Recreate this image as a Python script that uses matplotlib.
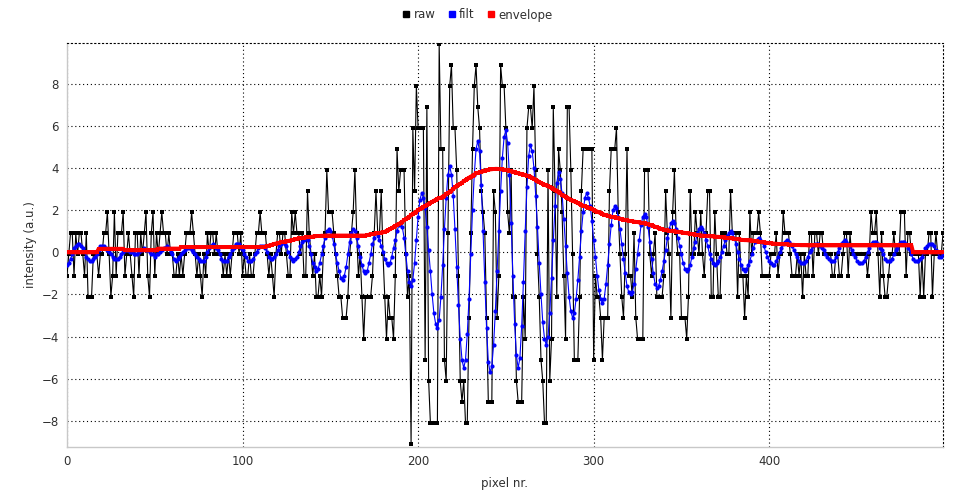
import numpy as np
import matplotlib
matplotlib.use("Agg")
import matplotlib.pyplot as plt
from matplotlib.lines import Line2D

# ---------------- data ----------------
raw = [
    -1.1,-0.1,0.9,0.9,-1.1,0.9,-0.1,0.9,0.9,-0.1,
    -1.1,0.9,-2.1,-2.1,-2.1,-0.1,-0.1,-0.1,-1.1,-0.1,
    -0.1,0.9,0.9,1.9,-0.1,-2.1,-1.1,1.9,-1.1,0.9,
    0.9,0.9,1.9,-1.1,-0.1,0.9,-0.1,-1.1,-2.1,0.9,
    0.9,-1.1,0.9,-0.1,0.9,1.9,-1.1,-2.1,0.9,1.9,
    -1.1,0.9,-0.1,0.9,1.9,0.9,0.9,-0.1,0.9,-0.1,
    -0.1,-1.1,-1.1,-0.1,-1.1,-0.1,-1.1,-0.1,0.9,0.9,
    0.9,1.9,0.9,-0.1,-1.1,-0.1,-1.1,-2.1,-0.1,-1.1,
    0.9,-0.1,0.9,0.9,-0.1,0.9,-0.1,-0.1,-0.1,-1.1,
    -0.1,-1.1,-0.1,-1.1,-0.1,0.9,0.9,0.9,-0.1,0.9,
    -1.1,-0.1,-1.1,-1.1,-0.1,-1.1,-1.1,-0.1,0.9,0.9,
    1.9,0.9,0.9,0.9,-0.1,-1.1,-0.1,-1.1,-2.1,-0.1,
    0.9,0.9,-0.1,0.9,0.9,-0.1,-1.1,-1.1,1.9,0.9,
    1.9,0.9,0.9,-0.1,0.9,-1.1,-1.1,2.9,0.9,-0.1,
    -1.1,-0.1,-2.1,-2.1,-1.1,-2.1,-0.1,0.9,3.9,1.9,
    1.9,1.9,0.9,-0.1,-1.1,-2.1,-2.1,-3.1,-3.1,-3.1,
    -2.1,-0.1,0.9,1.9,3.9,0.9,-1.1,-0.1,-2.1,-4.1,
    -2.1,-2.1,-2.1,-2.1,-1.1,0.9,2.9,0.9,0.9,2.9,
    -0.1,-2.1,-4.1,-2.1,-3.1,-3.1,-4.1,-1.1,4.9,2.9,
    3.9,3.9,3.9,-0.1,-2.1,-1.1,-9.1,5.9,2.9,7.9,
    5.9,5.9,5.9,5.9,-5.1,6.9,-6.1,-8.1,-8.1,-8.1,
    -8.1,-8.1,9.9,4.9,4.9,-5.1,-6.1,0.9,7.9,8.9,
    5.9,5.9,3.9,-1.1,-6.1,-7.1,-6.1,-8.1,-8.1,-3.1,
    0.9,4.9,7.9,8.9,6.9,5.9,2.9,1.9,0.9,-3.1,
    -7.1,-7.1,-7.1,2.9,1.9,-3.1,-1.1,8.9,7.9,7.9,
    5.9,1.9,0.9,3.9,-2.1,-2.1,-6.1,-7.1,-7.1,-7.1,
    -2.1,-4.1,5.9,6.9,6.9,5.9,7.9,3.9,-0.1,-2.1,
    -5.1,-6.1,-8.1,-8.1,3.9,-6.1,-4.1,6.9,2.9,-2.1,
    4.9,3.9,1.9,-1.1,-4.1,6.9,6.9,3.9,-0.1,-5.1,
    -5.1,-5.1,-2.1,2.9,4.9,4.9,4.9,4.9,4.9,4.9,
    -5.1,-1.1,-2.1,-2.1,-3.1,-5.1,-3.1,-3.1,-3.1,2.9,
    4.9,4.9,4.9,5.9,1.9,-0.1,-2.1,-3.1,-0.1,4.9,
    -1.1,-1.1,-2.1,0.9,-3.1,-4.1,-4.1,-4.1,-4.1,3.9,
    3.9,3.9,-0.1,-1.1,-0.1,0.9,-2.1,-2.1,-2.1,-2.1,
    -1.1,2.9,0.9,-0.1,-3.1,1.9,3.9,0.9,-0.1,-0.1,
    -3.1,-3.1,-3.1,-4.1,-2.1,2.9,-0.1,-0.1,1.9,0.9,
    -0.1,1.9,-0.1,-1.1,0.9,2.9,2.9,-2.1,-2.1,1.9,
    -0.1,-2.1,-2.1,0.9,0.9,0.9,-0.1,-0.1,2.9,0.9,
    0.9,0.9,-2.1,0.9,-1.1,-1.1,-3.1,-1.1,-2.1,1.9,
    -0.1,0.9,0.9,0.9,1.9,0.9,-1.1,-1.1,-1.1,-1.1,
    -1.1,-0.1,-0.1,-0.1,0.9,-1.1,-0.1,-0.1,1.9,0.9,
    0.9,0.9,-0.1,-1.1,-1.1,-1.1,-0.1,-1.1,-0.1,-2.1,
    -0.1,-1.1,-1.1,0.9,0.9,-1.1,0.9,0.9,-0.1,0.9,
    0.9,-0.1,-0.1,-0.1,-0.1,-0.1,-1.1,-1.1,-0.1,-0.1,
    -1.1,-1.1,-0.1,0.9,0.9,-1.1,0.9,-0.1,-0.1,-0.1,
    -0.1,-0.1,-0.1,-0.1,-0.1,-0.1,-1.1,-0.1,1.9,0.9,
    0.9,1.9,-0.1,-2.1,0.9,-1.1,-2.1,-2.1,-1.1,-0.1,
    -0.1,0.9,-0.1,-0.1,-0.1,1.9,1.9,1.9,-1.1,0.9,
    0.9,-0.1,-0.1,-0.1,-0.1,-0.1,-2.1,-0.1,-2.1,-0.1,
    -0.1,0.9,0.9,-2.1,-0.1,0.9,-0.1,-0.1,-0.1,0.9,
]

filt = [
    -0.6,-0.5,-0.3,-0.1,0.2,0.3,0.4,
    0.4,0.3,0.2,0.0,-0.2,-0.3,-0.4,-0.4,
    -0.3,-0.2,-0.1,0.1,0.3,0.3,
    0.3,0.2,0.1,0.0,-0.1,-0.2,-0.3,-0.3,
    -0.3,-0.2,-0.1,0.0,0.1,0.1,
    0.1,0.0,0.0,-0.1,-0.1,
    -0.1,0.0,0.1,0.1,0.2,
    0.1,0.1,0.0,-0.1,-0.1,-0.2,
    -0.1,-0.1,0.0,0.1,0.2,0.2,0.3,
    0.2,0.0,-0.1,-0.3,-0.4,
    -0.3,-0.2,-0.1,0.0,0.1,0.2,0.2,
    0.2,0.1,0.0,-0.1,-0.2,-0.3,-0.4,-0.4,
    -0.4,-0.2,0.0,0.2,0.3,0.4,
    0.3,0.2,0.1,-0.1,-0.3,-0.4,-0.4,
    -0.4,-0.2,-0.1,0.1,0.2,0.4,0.4,
    0.4,0.2,0.1,-0.1,-0.2,-0.4,-0.4,
    -0.4,-0.3,-0.1,0.0,0.2,0.3,0.3,
    0.3,0.2,0.0,-0.2,-0.3,-0.3,
    -0.2,-0.1,0.1,0.3,0.4,0.5,
    0.4,0.3,0.0,-0.2,-0.3,-0.4,
    -0.3,-0.2,0.0,0.3,0.5,0.6,0.7,
    0.6,0.3,-0.1,-0.5,-0.7,-0.9,
    -0.8,-0.5,-0.1,0.3,0.7,1.0,1.1,
    1.0,0.8,0.4,-0.1,-0.5,-0.9,-1.2,-1.3,
    -1.1,-0.7,-0.1,0.5,0.9,1.1,
    1.0,0.7,0.3,-0.2,-0.6,-0.9,-1.0,
    -0.9,-0.5,-0.1,0.4,0.7,0.9,
    0.8,0.6,0.3,0.0,-0.3,-0.5,-0.6,
    -0.5,-0.2,0.2,0.6,1.0,1.3,1.4,
    1.2,0.7,-0.1,-0.9,-1.4,-1.6,
    -1.3,-0.5,0.6,1.7,2.5,2.8,
    2.6,2.1,1.2,0.1,-0.9,-2.0,-2.9,-3.4,-3.6,
    -3.2,-2.1,-0.6,1.1,2.6,3.7,4.1,
    3.7,2.7,1.1,-0.7,-2.5,-4.1,-5.1,-5.5,
    -5.1,-3.9,-2.2,-0.1,2.0,3.7,4.9,5.3,
    4.8,3.2,1.0,-1.4,-3.6,-5.2,-5.7,
    -5.4,-4.4,-2.8,-0.9,1.0,2.9,4.5,5.5,5.8,
    5.2,3.7,1.4,-1.1,-3.4,-4.9,-5.5,
    -5.0,-3.5,-1.4,1.0,3.1,4.6,5.1,
    4.8,4.0,2.7,1.2,-0.5,-2.0,-3.3,-4.1,-4.4,
    -4.0,-2.9,-1.2,0.6,2.2,3.3,3.8,
    3.5,2.8,1.6,0.3,-1.0,-2.1,-2.8,-3.1,
    -2.9,-2.2,-1.3,-0.2,1.0,1.9,2.6,2.8,
    2.6,2.2,1.5,0.6,-0.2,-1.1,-1.8,-2.2,-2.4,
    -2.2,-1.5,-0.6,0.4,1.3,2.0,2.2,
    2.1,1.7,1.1,0.4,-0.3,-1.0,-1.6,-1.9,-2.0,
    -1.9,-1.5,-0.8,-0.1,0.6,1.3,1.7,1.8,
    1.7,1.2,0.5,-0.3,-1.0,-1.5,-1.7,
    -1.6,-1.3,-0.9,-0.4,0.1,0.7,1.1,1.4,1.5,
    1.4,1.1,0.7,0.3,-0.1,-0.5,-0.8,-0.9,
    -0.8,-0.6,-0.2,0.2,0.5,0.9,1.1,1.2,
    1.1,0.9,0.6,0.3,-0.1,-0.3,-0.5,-0.6,
    -0.5,-0.4,-0.2,0.0,0.3,0.6,0.8,0.9,1.0,
    0.9,0.7,0.4,0.0,-0.3,-0.6,-0.8,-0.9,
    -0.8,-0.6,-0.4,-0.1,0.2,0.5,0.6,0.7,
    0.6,0.5,0.3,0.0,-0.2,-0.4,-0.5,-0.6,
    -0.6,-0.4,-0.2,0.0,0.2,0.4,0.5,0.6,
    0.5,0.4,0.3,0.1,-0.1,-0.2,-0.4,-0.5,-0.5,
    -0.5,-0.4,-0.2,0.0,0.1,0.3,0.4,0.4,
    0.4,0.3,0.2,0.1,-0.1,-0.2,-0.3,-0.4,-0.4,
    -0.4,-0.2,0.0,0.2,0.4,0.5,0.6,
    0.5,0.4,0.3,0.1,-0.1,-0.2,-0.4,-0.5,-0.5,
    -0.5,-0.4,-0.2,0.0,0.2,0.4,0.5,0.5,
    0.5,0.4,0.2,0.1,-0.1,-0.3,-0.4,-0.4,
    -0.4,-0.3,-0.1,0.1,0.2,0.4,0.5,0.5,
    0.5,0.4,0.2,0.1,-0.1,-0.3,-0.4,-0.4,
    -0.4,-0.3,-0.2,0.0,0.2,0.3,0.4,0.4,
    0.4,0.3,0.1,0.0,-0.2,-0.2,
    -0.1,
]

envelope = [
    0.0,0.0,0.0,0.0,0.0,0.0,0.0,0.0,0.0,0.0,
    0.0,0.0,0.0,0.0,0.0,0.0,0.0,0.0,
    0.17,0.17,0.17,0.17,0.17,0.17,0.17,0.17,0.17,0.17,
    0.17,0.17,0.17,0.17,0.17,
    0.1,0.1,0.1,0.1,0.1,0.1,0.1,0.1,0.1,0.1,
    0.1,0.1,0.1,0.1,0.1,0.1,0.1,0.1,0.1,
    0.18,0.18,0.18,0.18,0.18,0.18,0.18,0.18,0.18,0.18,
    0.18,0.18,0.18,
    0.25,0.25,0.25,0.25,0.25,0.25,0.25,0.25,0.25,0.25,
    0.25,0.25,0.25,0.25,0.25,0.25,0.25,0.25,0.25,0.25,
    0.25,0.25,0.25,0.25,0.25,0.25,0.25,0.25,0.25,0.25,
    0.25,0.25,0.25,0.25,0.25,0.25,0.25,0.25,0.25,0.25,
    0.25,0.25,0.25,0.25,0.25,0.25,0.25,0.25,
    0.27,0.3,0.32,0.35,0.37,0.4,0.42,0.44,0.46,0.48,0.5,0.5,
    0.52,0.54,0.56,0.58,0.6,0.62,0.64,0.66,0.67,0.68,0.7,0.71,0.72,0.73,0.74,0.75,
    0.76,0.77,0.78,0.78,0.79,0.79,0.8,0.8,0.8,0.8,
    0.8,0.8,0.8,0.8,0.8,0.8,0.8,0.8,0.8,0.8,
    0.8,0.8,0.8,0.8,0.8,0.8,0.8,0.8,0.8,0.8,
    0.82,0.84,0.86,0.87,0.88,0.9,0.91,0.92,0.94,0.95,
    0.98,1.02,1.06,1.1,1.15,1.2,1.25,1.3,1.35,1.4,
    1.46,1.52,1.58,1.64,1.7,1.76,1.82,1.88,1.94,2.0,2.05,2.1,
    2.15,2.2,2.25,2.3,2.35,2.4,2.45,2.5,2.55,2.58,2.6,
    2.65,2.7,2.76,2.82,2.88,2.94,3.0,3.1,
    3.15,3.2,3.26,3.32,3.38,3.44,3.5,3.55,3.6,3.65,3.7,3.75,
    3.78,3.8,3.83,3.85,3.88,3.9,3.92,3.94,3.95,3.96,3.97,
    3.97,3.96,3.95,3.94,3.93,3.92,3.9,3.88,3.86,3.84,3.8,
    3.78,3.76,3.74,3.72,3.7,3.68,3.65,3.62,3.6,
    3.55,3.5,3.45,3.4,3.35,3.3,3.26,3.22,3.18,3.14,3.1,3.05,
    3.0,2.95,2.9,2.85,2.8,2.75,2.7,2.65,2.6,2.55,2.5,
    2.46,2.42,2.38,2.34,2.3,2.26,2.22,2.19,2.16,2.13,2.1,
    2.06,2.02,1.98,1.94,1.9,1.86,1.82,1.79,1.76,
    1.74,1.72,1.7,1.68,1.66,1.64,1.62,1.6,1.58,1.56,1.54,1.52,
    1.5,1.49,1.48,1.46,1.45,1.44,1.42,1.41,1.4,1.38,1.37,
    1.34,1.31,1.28,1.25,1.22,1.19,1.16,1.13,1.1,1.08,1.05,
    1.04,1.03,1.02,1.01,1.0,0.99,0.98,0.96,0.95,
    0.94,0.92,0.91,0.9,0.88,0.87,0.85,0.84,0.83,0.82,0.8,
    0.8,0.79,0.78,0.78,0.77,0.76,0.76,0.75,0.74,0.74,0.73,
    0.72,0.71,0.7,0.69,0.68,0.67,0.66,0.65,0.64,0.63,0.62,0.6,
    0.59,0.58,0.58,0.57,0.57,0.56,0.55,0.54,0.52,0.5,
    0.49,0.48,0.47,0.46,0.45,0.44,0.43,0.42,0.42,0.41,
    0.4,0.4,0.39,0.39,0.38,0.38,0.37,0.37,0.36,0.36,
    0.35,0.35,0.35,0.34,0.34,0.34,0.34,0.33,0.33,0.33,0.33,0.33,0.33,
    0.33,0.33,0.33,0.33,0.33,0.33,0.33,0.33,0.33,0.33,
    0.33,0.33,0.33,0.33,0.33,0.33,0.33,0.33,0.33,0.33,
    0.33,0.33,0.33,0.33,0.33,0.33,0.33,0.33,0.33,0.33,
    0.33,0.33,0.33,0.33,0.33,0.33,0.33,0.33,0.33,0.33,
    0.33,0.33,0.33,0.33,0.33,0.33,0.33,0.33,0.33,0.33,
    0.33,0.33,0.33,0.33,
    0.0,0.0,0.0,0.0,0.0,0.0,0.0,0.0,0.0,0.0,
    0.0,0.0,0.0,0.0,0.0,0.0,0.0,0.0,
]

x_ticks = [0, 100, 200, 300, 400]
y_ticks = [-8, -6, -4, -2, 0, 2, 4, 6, 8]
series_labels = ["raw", "filt", "envelope"]
series_colors = ["#000000", "#0000ff", "#ff0000"]

# ---------------- figure ----------------
plt.rcParams['font.family'] = ['DejaVu Sans']
fig = plt.figure(figsize=(9.54, 4.96), dpi=100)
ax = fig.add_axes([67/954, 1-447/496, (943-67)/954, (447-43)/496])

x_raw = np.arange(len(raw))
x_filt = np.arange(len(filt))
x_env = np.arange(len(envelope))

ax.plot(x_raw, raw, color=series_colors[0], lw=0.8, marker='s', ms=2.6,
        mec=series_colors[0], mew=0, zorder=3)
ax.plot(x_filt, filt, color=series_colors[1], lw=0.8, marker='o', ms=3.0,
        mec=series_colors[1], mew=0, zorder=4)
ax.plot(x_env, envelope, color=series_colors[2], lw=2.8, marker='s', ms=2.5,
        mec=series_colors[2], mew=0, zorder=5, solid_capstyle='butt')

ax.set_xlim(0, max(len(raw), len(filt), len(envelope)) - 1)
allv = raw + filt + envelope
ax.set_ylim(min(allv) - 0.15, max(allv) + 0.05)
ax.set_xticks(x_ticks)
ax.set_yticks(y_ticks)

ax.grid(True, color='#000000', linestyle=(0, (1, 2.5)), linewidth=0.8)
ax.set_axisbelow(True)
for s in ['top', 'right']:
    ax.spines[s].set_linestyle((0, (1, 2.5)))
    ax.spines[s].set_color('#000000')
    ax.spines[s].set_linewidth(0.8)
for s in ['left', 'bottom']:
    ax.spines[s].set_color('#c8c8c8')
    ax.spines[s].set_linewidth(1.0)
ax.tick_params(axis='both', length=0, pad=6, labelsize=8.5, labelcolor='#303030')

ax.set_xlabel("pixel nr.", fontsize=8.5, color='#303030', labelpad=6)
ax.set_ylabel("intensity (a.u.)", fontsize=8.5, color='#303030', labelpad=3)

handles = [Line2D([], [], color=c, marker='s', ls='none', ms=5) for c in series_colors]
fig.legend(handles, series_labels, loc='center', bbox_to_anchor=(0.5, 1-15/496),
           ncol=3, frameon=False, fontsize=8.5, handletextpad=0.2,
           columnspacing=1.0, handlelength=0.8, labelcolor='#303030')

fig.savefig("out.png", dpi=100)
